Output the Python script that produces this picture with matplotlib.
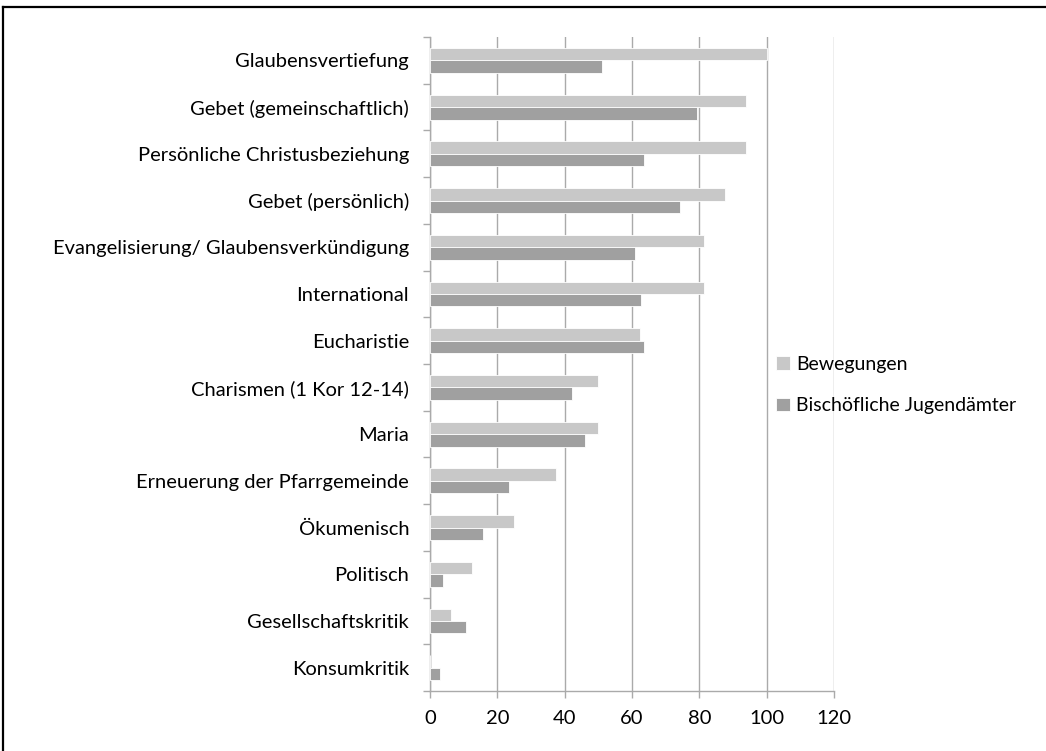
import numpy as np
import matplotlib
matplotlib.use("Agg")
import matplotlib.pyplot as plt
from matplotlib.lines import Line2D

plt.rcParams["font.family"] = ["Lato", "DejaVu Sans"]

# Kategorien von oben nach unten
categories = [
    "Glaubensvertiefung",
    "Gebet (gemeinschaftlich)",
    "Persönliche Christusbeziehung",
    "Gebet (persönlich)",
    "Evangelisierung/ Glaubensverkündigung",
    "International",
    "Eucharistie",
    "Charismen (1 Kor 12-14)",
    "Maria",
    "Erneuerung der Pfarrgemeinde",
    "Ökumenisch",
    "Politisch",
    "Gesellschaftskritik",
    "Konsumkritik",
]
bewegungen = [100, 93.75, 93.75, 87.5, 81.25, 81.25, 62.5, 50, 50, 37.5, 25, 12.5, 6.25, 0]
jugendaemter = [51, 79.4, 63.7, 74.4, 60.8, 62.7, 63.7, 42.2, 46.0, 23.4, 15.7, 3.9, 10.7, 2.9]
x_ticks = [0, 20, 40, 60, 80, 100, 120]

light = "#c8c8c8"
dark = "#a0a0a0"
grid = "#aaaaaa"
fs = 14.5

fig = plt.figure(figsize=(10.46, 7.51), dpi=100)
ax = fig.add_axes([0.4111, 0.0799, 0.3862, 0.8708])

y = np.arange(len(categories))
h = 0.266
ax.barh(y - h / 2, bewegungen, height=h, color=light, edgecolor="white",
        linewidth=0.6, label="Bewegungen", zorder=3)
ax.barh(y + h / 2, jugendaemter, height=h, color=dark, edgecolor="white",
        linewidth=0.6, label="Bischöfliche Jugendämter", zorder=3)

ax.set_xlim(0, 120)
ax.set_ylim(len(categories) - 0.5, -0.5)
ax.set_xticks(x_ticks)
ax.set_xticklabels([str(t) for t in x_ticks], fontsize=fs)
ax.set_yticks(y)
ax.set_yticklabels(categories, fontsize=fs)
ax.tick_params(axis="y", length=0, pad=15)
ax.set_yticks(np.arange(len(categories) + 1) - 0.5, minor=True)
ax.tick_params(axis="y", which="minor", length=5, color=grid, width=1)
ax.tick_params(axis="x", length=5, color=grid, width=1, pad=9)

ax.grid(axis="x", color=grid, linewidth=1, zorder=0)
for s in ["top", "right"]:
    ax.spines[s].set_visible(False)
for s in ["left", "bottom"]:
    ax.spines[s].set_color(grid)
    ax.spines[s].set_linewidth(1)

ax.legend(loc="center left", bbox_to_anchor=(0.7256, 0.487), bbox_transform=fig.transFigure,
          frameon=False, fontsize=14, handlelength=0.7, handleheight=0.7,
          handletextpad=0.3, labelspacing=1.25)

# Rahmen oben und links
fig.add_artist(Line2D([0.003, 1.0], [0.9907, 0.9907], color="black", linewidth=1.6))
fig.add_artist(Line2D([0.003, 0.003], [0.0, 0.9907], color="black", linewidth=1.6))

fig.savefig("out.png", dpi=100)
